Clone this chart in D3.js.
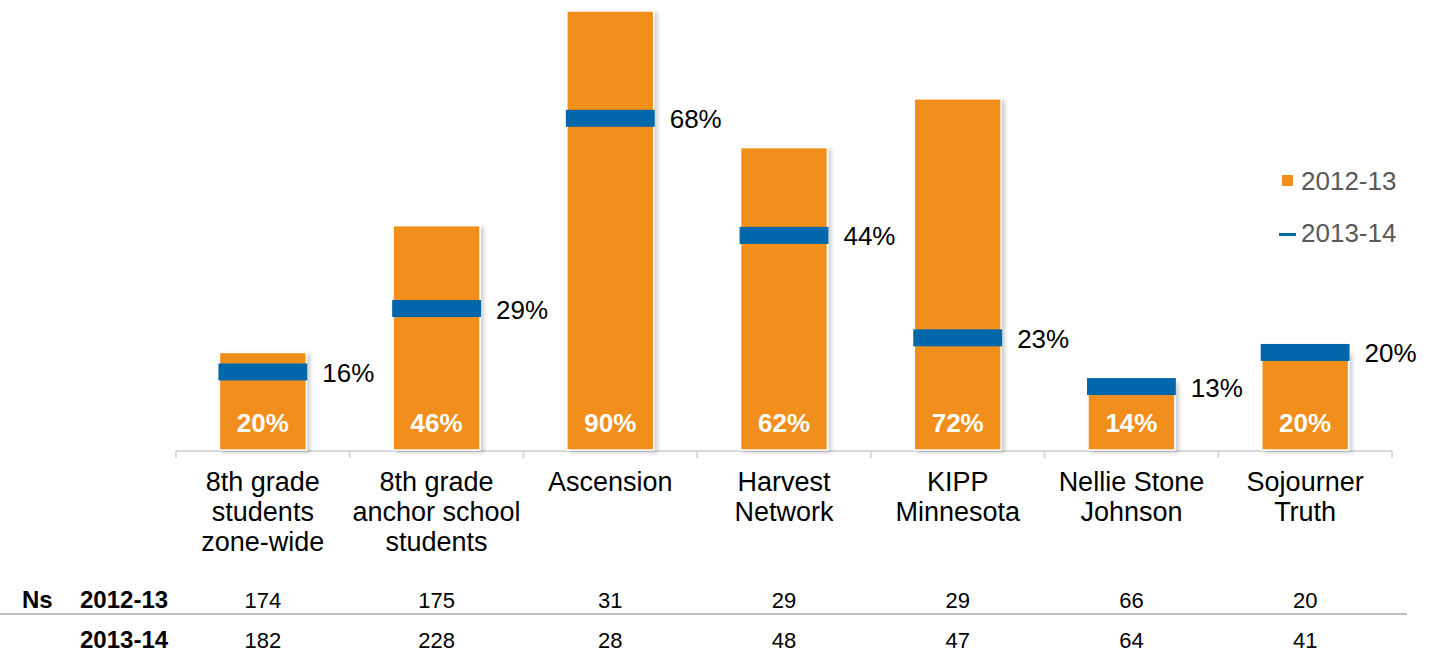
<!DOCTYPE html>
<html>
<head>
<meta charset="utf-8">
<script src="https://cdn.jsdelivr.net/npm/d3@7"></script>
<style>
  html, body { margin: 0; padding: 0; background: #fff; }
  svg { display: block; font-family: "Liberation Sans", Arial, sans-serif; }
</style>
</head>
<body>
<div id="chart"></div>
<script>
// data
var categories = ['8th grade\nstudents\nzone-wide', '8th grade\nanchor school\nstudents', 'Ascension',
  'Harvest\nNetwork', 'KIPP\nMinnesota', 'Nellie Stone\nJohnson', 'Sojourner\nTruth']
var values1213 = [20, 46, 90, 62, 72, 14, 20]
var values1314 = [16, 29, 68, 44, 23, 13, 20]
var ns1213 = [174, 175, 31, 29, 29, 66, 20]
var ns1314 = [182, 228, 28, 48, 47, 64, 41]
var seriesNames = ['2012-13', '2013-14']

var WIDTH = 1436
var HEIGHT = 653
var ORANGE = '#F28F1F'
var BLUE = '#0067AA'

var svg = d3.select('#chart').append('svg')
  .attr('width', WIDTH)
  .attr('height', HEIGHT)

svg.append('defs').html(`
<filter id="bar-shadow" x="-20%" y="-10%" width="150%" height="130%">
  <feDropShadow dx="3" dy="2" stdDeviation="2" flood-color="#000" flood-opacity="0.2"/>
</filter>`)

var x = d3.scaleBand()
  .domain(categories)
  .range([176, 1392])
  .paddingInner(0.5)
  .paddingOuter(0.25)

var y = d3.scaleLinear()
  .domain([0, 90])
  .range([450, 11])

var bw = x.bandwidth()
var step = x.step()

// axis line with ticks on category boundaries
var axis = svg.append('g').attr('class', 'axis')
axis.append('line')
  .attr('x1', x.range()[0]).attr('x2', x.range()[1])
  .attr('y1', y(0) + 1).attr('y2', y(0) + 1)
  .attr('stroke', '#d9d9d9').attr('stroke-width', 2)
axis.selectAll('line.tick')
  .data(d3.range(categories.length + 1))
  .enter()
  .append('line')
  .attr('class', 'tick')
  .attr('x1', i => x.range()[0] + i * step)
  .attr('x2', i => x.range()[0] + i * step)
  .attr('y1', y(0) + 1).attr('y2', y(0) + 8)
  .attr('stroke', '#d9d9d9').attr('stroke-width', 2)

// 2012-13 bars
var groups = svg.selectAll('g.item')
  .data(categories)
  .enter()
  .append('g')
  .attr('class', 'item')

groups.append('rect')
  .attr('x', d => x(d))
  .attr('y', (d, i) => y(values1213[i]))
  .attr('width', bw)
  .attr('height', (d, i) => y(0) - y(values1213[i]))
  .attr('fill', ORANGE)
  .attr('stroke', '#fff')
  .attr('stroke-width', 1.5)
  .attr('filter', 'url(#bar-shadow)')

// 2013-14 markers
groups.append('rect')
  .attr('x', d => x(d) - 1)
  .attr('y', (d, i) => y(values1314[i]) - 8.5)
  .attr('width', bw + 2)
  .attr('height', 17)
  .attr('fill', BLUE)

// labels inside bars
groups.append('text')
  .attr('x', d => x(d) + bw / 2)
  .attr('y', y(0) - 18)
  .attr('text-anchor', 'middle')
  .attr('font-size', 26)
  .attr('font-weight', 'bold')
  .attr('fill', '#fff')
  .text((d, i) => values1213[i] + '%')

// labels to the right of markers
groups.append('text')
  .attr('x', d => x(d) + bw + 16)
  .attr('y', (d, i) => y(values1314[i]) + 10)
  .attr('font-size', 26)
  .attr('fill', '#000')
  .text((d, i) => values1314[i] + '%')

// category labels
groups.append('text')
  .attr('text-anchor', 'middle')
  .attr('font-size', 27)
  .attr('fill', '#000')
  .each(function (d) {
    var t = d3.select(this)
    d.split('\n').forEach((line, j) => {
      t.append('tspan')
        .attr('x', x(d) + bw / 2)
        .attr('y', 491 + j * 30)
        .text(line)
    })
  })

// legend
var legend = svg.append('g').attr('class', 'legend')
legend.append('rect')
  .attr('x', 1282).attr('y', 175)
  .attr('width', 11).attr('height', 11)
  .attr('fill', ORANGE)
legend.append('rect')
  .attr('x', 1279).attr('y', 233)
  .attr('width', 17).attr('height', 3)
  .attr('fill', BLUE)
legend.selectAll('text')
  .data(seriesNames)
  .enter()
  .append('text')
  .attr('x', 1301)
  .attr('y', (d, i) => 190 + i * 52)
  .attr('font-size', 26)
  .attr('fill', '#595959')
  .text(d => d)

// Ns table
var table = svg.append('g').attr('class', 'ns')
table.append('text')
  .attr('x', 22).attr('y', 608)
  .attr('font-size', 24).attr('font-weight', 'bold')
  .text('Ns')
table.selectAll('text.row')
  .data(seriesNames)
  .enter()
  .append('text')
  .attr('class', 'row')
  .attr('x', 80)
  .attr('y', (d, i) => 608 + i * 40)
  .attr('font-size', 24).attr('font-weight', 'bold')
  .text(d => d)
table.append('line')
  .attr('x1', 0).attr('x2', 1407)
  .attr('y1', 614).attr('y2', 614)
  .attr('stroke', '#bfbfbf').attr('stroke-width', 2)

;[ns1213, ns1314].forEach((row, r) => {
  table.selectAll('text.v' + r)
    .data(row)
    .enter()
    .append('text')
    .attr('class', 'v' + r)
    .attr('x', (d, i) => x(categories[i]) + bw / 2)
    .attr('y', 608 + r * 40)
    .attr('text-anchor', 'middle')
    .attr('font-size', 22)
    .text(d => d)
})
</script>
</body>
</html>
